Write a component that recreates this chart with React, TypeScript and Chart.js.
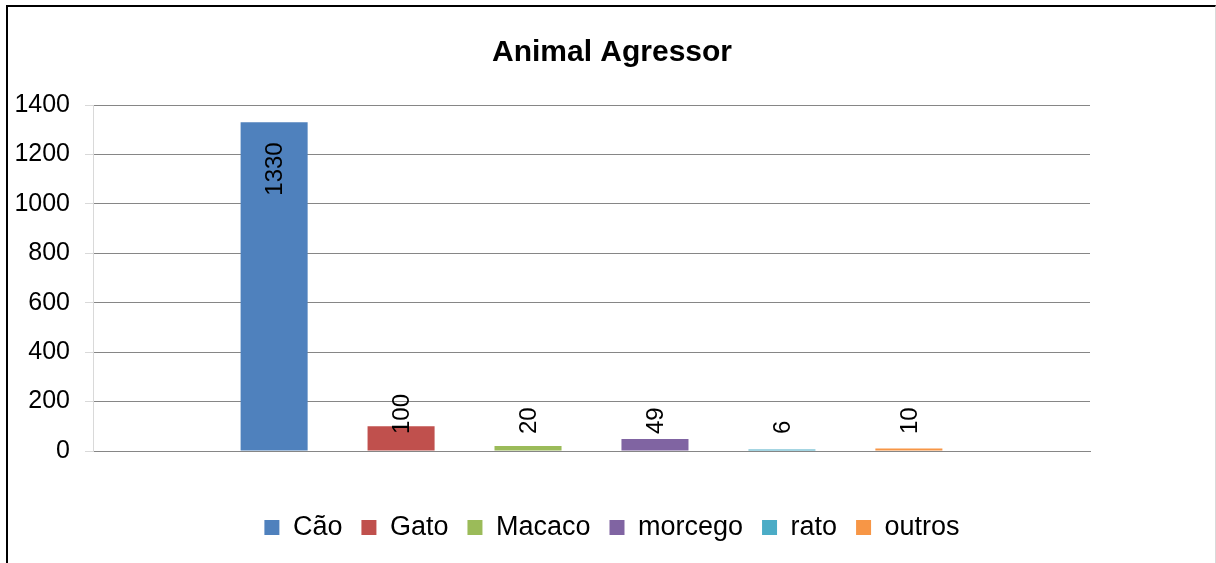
import React, { useEffect, useRef } from "react";
import { Chart, registerables } from "chart.js";

Chart.register(...registerables);

const title = "Animal Agressor";
const categories = [""];
const seriesNames = ["Cão", "Gato", "Macaco", "morcego", "rato", "outros"];
const seriesValues = [1330, 100, 20, 49, 6, 10];
const seriesColors = ["#4F81BD", "#C0504D", "#9BBB59", "#8064A2", "#4BACC6", "#F79646"];
const yMin = 0;
const yMax = 1400;
const yStep = 200;

const FONT = "'Liberation Sans', Arial, sans-serif";

const labelPlugin = {
  id: "barLabels",
  afterDatasetsDraw(chart: any) {
    const ctx = chart.ctx;
    const area = chart.chartArea;
    ctx.save();
    ctx.font = `24px ${FONT}`;
    ctx.fillStyle = "#000000";
    ctx.textBaseline = "middle";
    chart.data.datasets.forEach((ds: any, i: number) => {
      const meta = chart.getDatasetMeta(i);
      meta.data.forEach((bar: any, j: number) => {
        const v = ds.data[j];
        const text = String(v);
        const h = bar.base - bar.y;
        ctx.save();
        if (h > 120) {
          ctx.translate(bar.x + 1, bar.y + 20);
          ctx.rotate(-Math.PI / 2);
          ctx.textAlign = "right";
        } else {
          ctx.translate(bar.x + 1, area.bottom - 17);
          ctx.rotate(-Math.PI / 2);
          ctx.textAlign = "left";
        }
        ctx.fillText(text, 0, 0);
        ctx.restore();
      });
    });
    ctx.restore();
  },
};

export default function App() {
  const ref = useRef<HTMLCanvasElement | null>(null);

  useEffect(() => {
    if (!ref.current) return;
    Chart.defaults.font.family = FONT;
    Chart.defaults.color = "#000000";
    const chart = new Chart(ref.current, {
      type: "bar",
      data: {
        labels: categories,
        datasets: seriesNames.map((name, i) => ({
          label: name,
          data: [seriesValues[i]],
          backgroundColor: seriesColors[i],
          borderWidth: 0,
          categoryPercentage: 0.764,
          barPercentage: 0.528,
        })),
      },
      options: {
        responsive: false,
        animation: false,
        devicePixelRatio: 1,
        layout: { padding: { top: 0, left: 0, right: 0, bottom: 12 } },
        plugins: {
          title: {
            display: true,
            text: title,
            color: "#000000",
            font: { size: 30, weight: "bold", family: FONT },
            padding: { top: 35, bottom: 34 },
          },
          legend: {
            display: true,
            position: "bottom",
            labels: {
              boxWidth: 15,
              boxHeight: 15,
              padding: 19,
              color: "#000000",
              font: { size: 27, family: FONT },
            },
          },
          tooltip: { enabled: false },
        },
        scales: {
          x: {
            type: "category",
            ticks: { display: false },
            grid: { display: false },
            border: { display: true, color: "#868686", width: 1 },
            afterFit: (s: any) => {
              s.height = 44;
            },
          },
          y: {
            min: yMin,
            max: yMax,
            ticks: {
              stepSize: yStep,
              padding: 15,
              color: "#000000",
              font: { size: 25, family: FONT },
              callback: (v: any) => String(v),
            },
            grid: {
              color: "#868686",
              tickColor: "#d9d9d9",
              tickLength: 8,
              lineWidth: 1,
            },
            border: { display: true, color: "#d9d9d9", width: 1 },
            afterFit: (s: any) => {
              s.width = 85;
            },
          },
          yRight: {
            position: "right",
            display: true,
            ticks: { display: false },
            grid: { display: false, drawTicks: false },
            border: { display: false },
            afterFit: (s: any) => {
              s.width = 126;
            },
          },
        },
      },
      plugins: [labelPlugin],
    } as any);
    return () => chart.destroy();
  }, []);

  return (
    <div>
      <div
        style={{
          position: "absolute",
          left: 6,
          top: 5,
          width: 1210,
          height: 558,
          boxSizing: "border-box",
          borderLeft: "2px solid #000",
          borderTop: "2px solid #000",
          borderRight: "1px solid #d9d9d9",
        }}
      />
      <canvas
        ref={ref}
        width={1208}
        height={563}
        style={{ position: "absolute", left: 8, top: 0, width: 1208, height: 563 }}
      />
    </div>
  );
}
